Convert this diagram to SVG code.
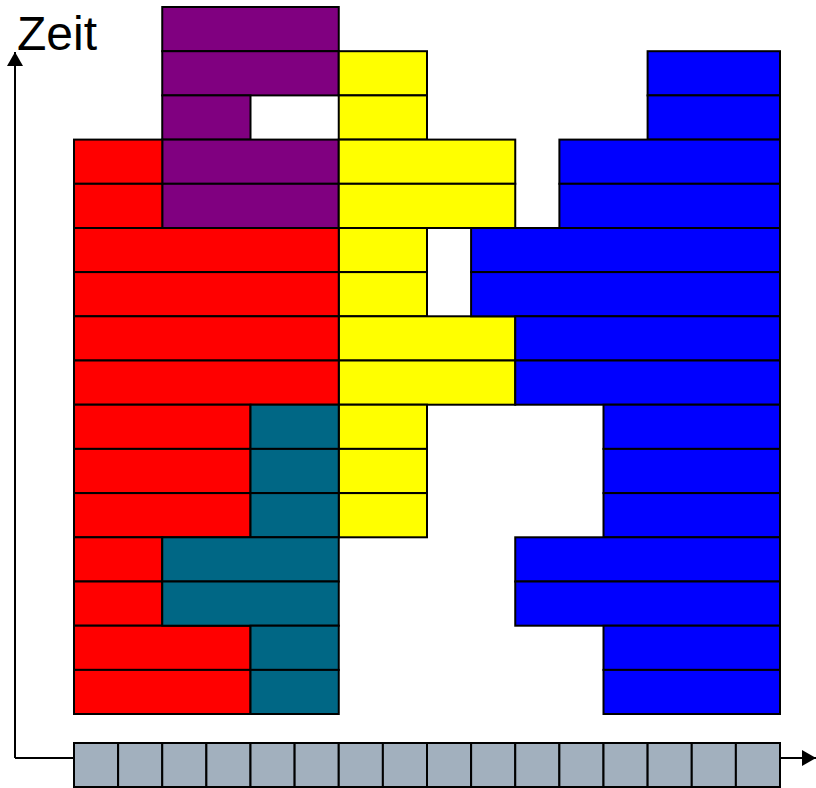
<svg xmlns="http://www.w3.org/2000/svg" width="816" height="788" viewBox="0 0 816 788">
<style>
rect{stroke:#000;stroke-width:2}
.r{fill:#FF0000}.p{fill:#800080}.y{fill:#FFFF00}.b{fill:#0000FF}.t{fill:#006785}.g{fill:#A2B0BE}
.ax{stroke:#000;stroke-width:2;fill:none}
text{font-family:"Liberation Sans",Arial,sans-serif;font-size:48px;fill:#000}
</style>
<defs>
<marker id="ah" markerWidth="8" markerHeight="8" refX="7" refY="4" orient="auto" markerUnits="userSpaceOnUse" viewBox="0 0 8 8"><path d="M0,0 L8,4 L0,8 Z" fill="#000"/></marker>
<marker id="ah2" markerWidth="14" markerHeight="16" refX="14" refY="8" orient="auto" markerUnits="userSpaceOnUse" viewBox="0 0 14 16"><path d="M0,0 L14,8 L0,16 Z" fill="#000"/></marker>
</defs>
<g id="connectors">
<path class="ax" d="M15,758 V52" marker-end="url(#ah2)"/>
<path class="ax" d="M15,758 H816" marker-end="url(#ah2)"/>
</g>
<g id="label"><text x="17" y="50">Zeit</text></g>
<g id="purple">
<rect class="p" x="162.25" y="7" width="176.5" height="44.2"/>
<rect class="p" x="162.25" y="51.2" width="176.5" height="44.2"/>
<rect class="p" x="162.25" y="95.4" width="88.25" height="44.2"/>
<rect class="p" x="162.25" y="139.6" width="176.5" height="44.2"/>
<rect class="p" x="162.25" y="183.8" width="176.5" height="44.2"/>
</g>
<g id="yellow">
<rect class="y" x="338.75" y="51.2" width="88.25" height="44.2"/>
<rect class="y" x="338.75" y="95.4" width="88.25" height="44.2"/>
<rect class="y" x="338.75" y="139.6" width="176.5" height="44.2"/>
<rect class="y" x="338.75" y="183.8" width="176.5" height="44.2"/>
<rect class="y" x="338.75" y="228" width="88.25" height="44.1"/>
<rect class="y" x="338.75" y="272.1" width="88.25" height="44.2"/>
<rect class="y" x="338.75" y="316.3" width="176.5" height="44.2"/>
<rect class="y" x="338.75" y="360.5" width="176.5" height="44.2"/>
<rect class="y" x="338.75" y="404.7" width="88.25" height="44.2"/>
<rect class="y" x="338.75" y="448.9" width="88.25" height="44.2"/>
<rect class="y" x="338.75" y="493.1" width="88.25" height="44.2"/>
</g>
<g id="blue">
<rect class="b" x="647.6" y="51.2" width="132.4" height="44.2"/>
<rect class="b" x="647.6" y="95.4" width="132.4" height="44.2"/>
<rect class="b" x="559.4" y="139.6" width="220.6" height="44.2"/>
<rect class="b" x="559.4" y="183.8" width="220.6" height="44.2"/>
<rect class="b" x="471.1" y="228" width="308.9" height="44.1"/>
<rect class="b" x="471.1" y="272.1" width="308.9" height="44.2"/>
<rect class="b" x="515.25" y="316.3" width="264.75" height="44.2"/>
<rect class="b" x="515.25" y="360.5" width="264.75" height="44.2"/>
<rect class="b" x="603.5" y="404.7" width="176.5" height="44.2"/>
<rect class="b" x="603.5" y="448.9" width="176.5" height="44.2"/>
<rect class="b" x="603.5" y="493.1" width="176.5" height="44.2"/>
<rect class="b" x="515.25" y="537.3" width="264.75" height="44.2"/>
<rect class="b" x="515.25" y="581.5" width="264.75" height="44.2"/>
<rect class="b" x="603.5" y="625.7" width="176.5" height="44.2"/>
<rect class="b" x="603.5" y="669.9" width="176.5" height="44.1"/>
</g>
<g id="red">
<rect class="r" x="74" y="139.6" width="88.25" height="44.2"/>
<rect class="r" x="74" y="183.8" width="88.25" height="44.2"/>
<rect class="r" x="74" y="228" width="264.75" height="44.1"/>
<rect class="r" x="74" y="272.1" width="264.75" height="44.2"/>
<rect class="r" x="74" y="316.3" width="264.75" height="44.2"/>
<rect class="r" x="74" y="360.5" width="264.75" height="44.2"/>
<rect class="r" x="74" y="404.7" width="176.5" height="44.2"/>
<rect class="r" x="74" y="448.9" width="176.5" height="44.2"/>
<rect class="r" x="74" y="493.1" width="176.5" height="44.2"/>
<rect class="r" x="74" y="537.3" width="88.25" height="44.2"/>
<rect class="r" x="74" y="581.5" width="88.25" height="44.2"/>
<rect class="r" x="74" y="625.7" width="176.5" height="44.2"/>
<rect class="r" x="74" y="669.9" width="176.5" height="44.1"/>
</g>
<g id="teal">
<rect class="t" x="250.5" y="404.7" width="88.25" height="44.2"/>
<rect class="t" x="250.5" y="448.9" width="88.25" height="44.2"/>
<rect class="t" x="250.5" y="493.1" width="88.25" height="44.2"/>
<rect class="t" x="162.25" y="537.3" width="176.5" height="44.2"/>
<rect class="t" x="162.25" y="581.5" width="176.5" height="44.2"/>
<rect class="t" x="250.5" y="625.7" width="88.25" height="44.2"/>
<rect class="t" x="250.5" y="669.9" width="88.25" height="44.1"/>
</g>
<g id="axis-cells">
<rect class="g" x="74" y="743" width="44.125" height="44"/>
<rect class="g" x="118.125" y="743" width="44.125" height="44"/>
<rect class="g" x="162.25" y="743" width="44.125" height="44"/>
<rect class="g" x="206.375" y="743" width="44.125" height="44"/>
<rect class="g" x="250.5" y="743" width="44.125" height="44"/>
<rect class="g" x="294.625" y="743" width="44.125" height="44"/>
<rect class="g" x="338.75" y="743" width="44.125" height="44"/>
<rect class="g" x="382.875" y="743" width="44.125" height="44"/>
<rect class="g" x="427" y="743" width="44.125" height="44"/>
<rect class="g" x="471.125" y="743" width="44.125" height="44"/>
<rect class="g" x="515.25" y="743" width="44.125" height="44"/>
<rect class="g" x="559.375" y="743" width="44.125" height="44"/>
<rect class="g" x="603.5" y="743" width="44.125" height="44"/>
<rect class="g" x="647.625" y="743" width="44.125" height="44"/>
<rect class="g" x="691.75" y="743" width="44.125" height="44"/>
<rect class="g" x="735.875" y="743" width="44.125" height="44"/>
</g>
</svg>
